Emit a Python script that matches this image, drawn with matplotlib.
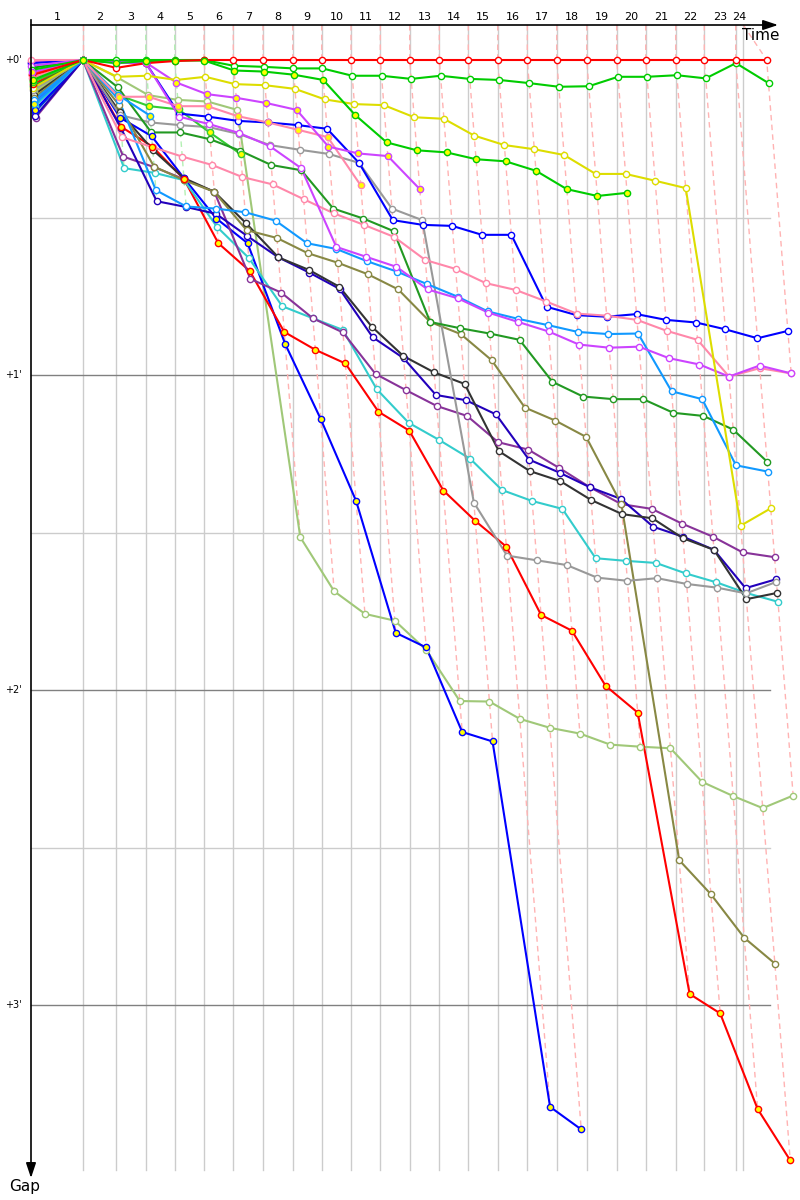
import matplotlib
matplotlib.use('Agg')
import matplotlib.pyplot as plt

# leader crossing time (s) at end of laps 1..24
lap_times = [126.8, 206.6, 279.8, 350.5, 422.0, 493.4, 565.9, 638.3, 709.0, 780.5,
             852.0, 923.7, 995.9, 1066.6, 1138.3, 1210.5, 1282.2, 1355.4, 1428.5,
             1499.3, 1572.4, 1642.2, 1718.8, 1794.4]
race_end = 1737.3
lap_labels = [str(i) for i in range(1, 25)]

# gap to leader (s), index 0 = start, 1 = lap 1, ...
gaps_red = [2.9, 0, 1.5, 0.6, 0.2] + [0] * 20
gaps_green = [1.9, 0, 0, 0, 0, 0, 1.1, 1.3, 1.6, 1.6, 3.0, 3.0, 3.6, 3.0, 3.6, 3.8,
              4.4, 5.1, 5.0, 3.2, 3.2, 2.9, 3.5, 0.6, 4.4]
gaps_green_y = [3.8, 0, 0.6, 0.2, 0.1, 0.1, 2.0, 2.2, 2.8, 3.8, 10.5, 15.7, 17.2,
                17.6, 18.9, 19.3, 21.1, 24.6, 25.9, 25.3]
gaps_yellow = [5.3, 0, 3.2, 3.0, 3.8, 3.2, 4.6, 4.8, 5.5, 7.5, 8.4, 8.6, 10.9, 11.2,
               14.4, 16.2, 17.0, 18.1, 21.7, 21.7, 23.0, 24.4, 88.7, 85.4]
gaps_violet = [1.1, 0, 0.4, 0.6, 10.8, 12.2, 13.9, 16.4, 20.6, 35.6, 37.5, 39.4, 43.7,
               45.4, 48.1, 49.9, 51.7, 54.2, 54.8, 54.6, 56.8, 58.0, 60.3, 58.2, 59.7]
gaps_violet_y = [2.3, 0, 0.5, 0.5, 4.3, 6.5, 7.2, 8.2, 9.5, 16.5, 17.8, 18.3, 24.6]
gaps_pink = [0.0, 0, 14.7, 16.6, 18.4, 20.0, 22.3, 23.7, 26.5, 29.2, 31.4, 33.7, 38.1,
             39.8, 42.5, 43.8, 46.0, 48.3, 48.7, 49.5, 51.6, 53.3, 60.3, 58.7, 59.7]
gaps_pink_y = [3.4, 0, 7.0, 7.0, 8.8, 8.8, 10.7, 11.9, 13.3, 14.7, 23.9]
gaps_sky = [7.6, 0, 7.6, 24.8, 27.9, 28.3, 29.0, 30.6, 34.9, 36.0, 38.3, 40.3, 42.7,
            45.1, 47.9, 49.3, 50.5, 51.8, 52.2, 52.1, 63.1, 64.6, 77.2, 78.4]
gaps_sky_y = [8.4, 0, 6.7, 10.6]
gaps_lime = [6.1, 0, 3.3, 6.7, 7.6, 7.9, 9.5, 90.9, 101.2, 105.5, 106.8, 112.4, 122.1,
             122.2, 125.5, 127.2, 128.3, 130.4, 130.8, 131.1, 137.5, 140.2, 142.5, 140.1]
gaps_blue_y = [9.5, 0, 11.0, 14.5, 22.5, 30.2, 34.9, 54.1, 68.4, 84.0, 109.1, 111.9,
               128.0, 129.8, 199.4, 203.7]
gaps_red_y = [4.6, 0, 12.7, 16.5, 22.7, 34.9, 40.2, 51.8, 55.2, 57.8, 67.0, 70.6, 82.0,
              87.8, 92.7, 105.7, 108.7, 119.2, 124.3, 177.9, 181.6, 199.8, 209.6]
gaps_blue = [0.6, 0, 0.4, 0.6, 10.2, 10.8, 11.6, 11.9, 12.4, 13.1, 19.6, 30.5, 31.4,
             31.6, 33.3, 33.3, 47.0, 48.6, 48.9, 48.4, 49.5, 50.0, 51.3, 53.0, 51.6]
gaps_navy = [10.7, 0, 13.0, 26.9, 28.0, 29.3, 33.5, 37.6, 40.5, 43.6, 52.8, 56.8, 63.8,
             64.8, 67.5, 76.1, 78.6, 81.4, 83.6, 88.9, 90.8, 93.3, 100.6, 98.9]
gaps_black = [6.7, 0, 9.9, 17.1, 22.5, 25.1, 31.1, 37.6, 40.0, 43.2, 50.8, 56.4, 59.5,
              61.7, 74.5, 78.3, 80.2, 83.8, 86.5, 87.3, 91.1, 93.3, 102.7, 101.5]
gaps_olive = [7.2, 0, 8.6, 20.3, 22.9, 25.1, 32.4, 33.9, 36.8, 38.6, 40.8, 43.7, 49.9,
              52.2, 57.2, 66.2, 68.7, 71.8, 84.6, 152.4, 158.9, 167.2, 172.1]
gaps_gray = [5.7, 0, 10.5, 11.9, 12.4, 12.8, 14.1, 16.2, 17.1, 17.9, 19.6, 28.3, 30.5,
             84.3, 94.4, 95.3, 96.2, 98.6, 99.2, 98.7, 99.8, 100.5, 101.6, 99.4]
gaps_dkgreen = [5.0, 0, 5.2, 13.8, 13.8, 15.1, 17.3, 20.0, 21.0, 28.3, 30.2, 32.6, 49.9,
                51.1, 52.1, 53.3, 61.3, 64.1, 64.6, 64.6, 67.2, 67.8, 70.4, 76.5]
gaps_green_y2 = [4.2, 0, 6.7, 8.8, 9.4, 13.8, 17.9]
gaps_teal = [8.8, 0, 20.6, 21.5, 22.9, 31.8, 37.7, 46.9, 49.2, 51.4, 62.7, 69.1, 72.4,
             76.0, 81.9, 84.0, 85.5, 94.9, 95.4, 95.8, 97.8, 99.5, 101.5, 103.2]
gaps_purple = [11.0, 0, 18.4, 20.4, 22.7, 25.1, 41.7, 44.3, 49.2, 51.9, 59.8, 62.9, 65.9,
               67.8, 72.8, 74.2, 77.7, 81.4, 84.6, 85.5, 88.3, 90.8, 93.8, 94.7]
# cars that only appear at the start
gaps_x1 = [0.3, 0]
gaps_x2 = [1.5, 0]
gaps_x3 = [2.6, 0]
gaps_x4 = [4.0, 0]
gaps_x5 = [6.3, 0]
gaps_x6 = [8.0, 0]
gaps_x7 = [9.9, 0]

drivers = [
    ('#ff0000', 'white', gaps_red),
    ('#00cc00', 'white', gaps_green),
    ('#00cc00', '#ffff00', gaps_green_y),
    ('#dddd00', 'white', gaps_yellow),
    ('#cc44ff', 'white', gaps_violet),
    ('#cc44ff', '#ffff00', gaps_violet_y),
    ('#ff88aa', 'white', gaps_pink),
    ('#ff88aa', '#ffff00', gaps_pink_y),
    ('#1199ff', 'white', gaps_sky),
    ('#1199ff', '#ffff00', gaps_sky_y),
    ('#0000ff', 'white', gaps_blue),
    ('#229922', 'white', gaps_dkgreen),
    ('#33cc33', '#ffff00', gaps_green_y2),
    ('#999999', 'white', gaps_gray),
    ('#888844', 'white', gaps_olive),
    ('#333333', 'white', gaps_black),
    ('#2200bb', 'white', gaps_navy),
    ('#883399', 'white', gaps_purple),
    ('#33cccc', 'white', gaps_teal),
    ('#ff0000', '#ffff00', gaps_red_y),
    ('#0000ff', '#ffff00', gaps_blue_y),
    ('#a0c878', 'white', gaps_lime),
    ('#ff66cc', 'white', gaps_x1),
    ('#00aa00', 'white', gaps_x2),
    ('#ff3333', 'white', gaps_x3),
    ('#66cc00', 'white', gaps_x4),
    ('#ffcc00', 'white', gaps_x5),
    ('#3366ff', 'white', gaps_x6),
    ('#0044cc', 'white', gaps_x7),
]

# pixel layout of the original: x = 31 + 0.41*t, y = 60 + 5.25*gap
fig = plt.figure(figsize=(8, 12), dpi=100)
ax = fig.add_axes([0, 0, 1, 1])
ax.set_xlim(-31 / 0.41, 769 / 0.41)
ax.set_ylim(1140 / 5.25, -60 / 5.25)
ax.axis('off')

top = -35 / 5.25
bottom = 1110 / 5.25
right = 739 / 0.41
grid_times = [0] + lap_times[:23] + [race_end]


def lap_start(k):
    return 0.0 if k == 0 else lap_times[k - 1]


# grid
for t in grid_times[1:]:
    ax.plot([t, t], [top, bottom], color='#cccccc', lw=1, zorder=1)
for g in [30, 90, 150]:
    ax.plot([0, right], [g, g], color='#cccccc', lw=1, zorder=1)
for g in [60, 120, 180]:
    ax.plot([0, right], [g, g], color='#808080', lw=1, zorder=1)
    ax.text(-22, g, "+%d'" % (g // 60), ha='right', va='center', fontsize=7)
ax.text(-22, 0, "+0'", ha='right', va='center', fontsize=7)

# lap lines (dashed, in the colour of the lap leader)
for k in range(1, 25):
    at_lap = [(d[2][k], d[0]) for d in drivers if len(d[2]) > k]
    lead_col = min(at_lap, key=lambda p: p[0])[1]
    maxg = max(p[0] for p in at_lap)
    rgb = matplotlib.colors.to_rgb(lead_col)
    light = tuple(0.3 * c + 0.7 for c in rgb)
    ax.plot([grid_times[k], lap_start(k), lap_start(k) + maxg], [top, 0, maxg],
            color=light, lw=1, ls=(0, (4, 3)), zorder=2)

# lap numbers
for i, lab in enumerate(lap_labels):
    ax.text((grid_times[i] + grid_times[i + 1]) / 2, -43 / 5.25, lab,
            ha='center', va='center', fontsize=8)

# drivers: lines first, then markers (yellow ones on top)
for z, (col, face, gaps) in enumerate(reversed(drivers)):
    xs = [lap_start(k) + g for k, g in enumerate(gaps)]
    ax.plot(xs, gaps, color=col, lw=1.5, zorder=3 + z * 0.01)
    mz = 4.5 if face != 'white' else 4
    ax.plot(xs, gaps, ls='none', marker='o', ms=4.5, mfc=face, mec=col,
            mew=1, zorder=mz + z * 0.001)

# axes with arrows
ax.annotate('', xy=(1822, top), xytext=(0, top),
            arrowprops=dict(arrowstyle='-|>,head_length=0.9,head_width=0.3',
                            color='black', lw=1.2, shrinkA=0, shrinkB=0), zorder=5)
ax.annotate('', xy=(0, 1118 / 5.25), xytext=(0, top - 1),
            arrowprops=dict(arrowstyle='-|>,head_length=0.9,head_width=0.3',
                            color='black', lw=1.2, shrinkA=0, shrinkB=0), zorder=5)
ax.text(1734, -24 / 5.25, 'Time', ha='left', va='center', fontsize=11)
ax.text(-16, 1126 / 5.25, 'Gap', ha='center', va='center', fontsize=11)

fig.savefig('out.png', dpi=100)
